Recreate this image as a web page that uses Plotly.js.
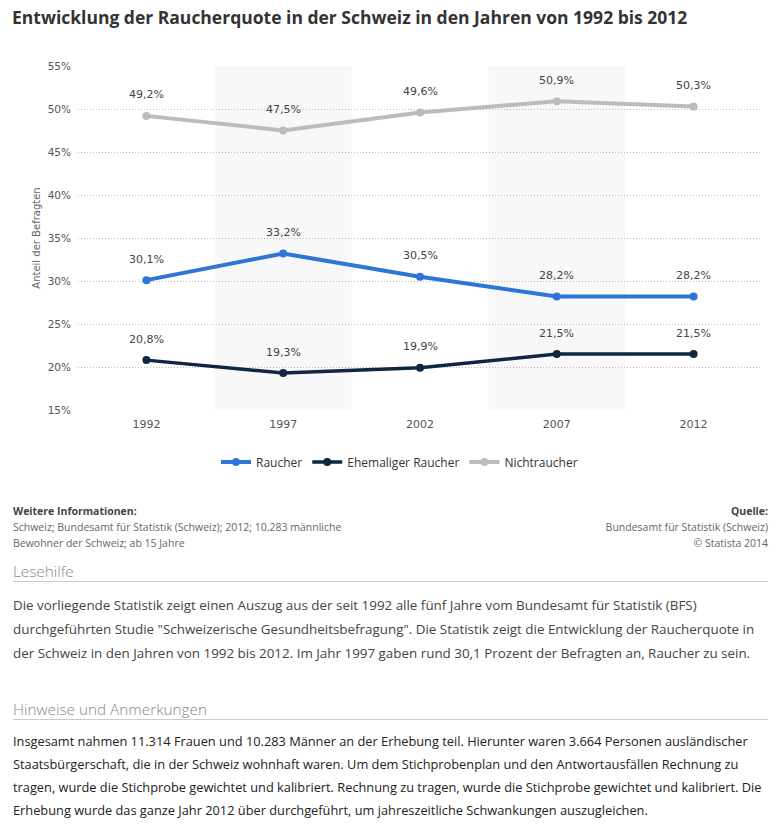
<!DOCTYPE html>
<html>
<head>
<meta charset="utf-8">
<script src="https://cdn.plot.ly/plotly-3.0.1.min.js"></script>
<style>
    body { margin: 0; background: #fff; width: 781px; height: 825px; position: relative; overflow: hidden; }
    .txt { font-family: "Open Sans", sans-serif; }
    #title { position: absolute; left: 12px; top: 5px; font-size: 17.5px; font-weight: 700; color: #333; white-space: nowrap; }
    #graphic { position: absolute; left: 0; top: 0; width: 781px; height: 490px; }
    .info { position: absolute; top: 503px; font-size: 10.5px; line-height: 16px; color: #666; }
    .info b { color: #444; }
    #info-left { left: 13px; }
    #info-right { right: 13px; text-align: right; }
    .head { position: absolute; left: 13px; width: 755px; font-size: 15.3px; line-height: 20px; font-weight: 300; color: #888; border-bottom: 1px solid #ccc; }
    .text { position: absolute; left: 13px; width: 755px; font-size: 12.8px; line-height: 24px; color: #444; }
</style>
</head>
<body>
<div id="graphic"></div>
<div id="title" class="txt">Entwicklung der Raucherquote in der Schweiz in den Jahren von 1992 bis 2012</div>

<div id="info-left" class="info txt"><b>Weitere Informationen:</b><br>Schweiz; Bundesamt für Statistik (Schweiz); 2012; 10.283 männliche<br>Bewohner der Schweiz; ab 15 Jahre</div>
<div id="info-right" class="info txt"><b>Quelle:</b><br>Bundesamt für Statistik (Schweiz)<br>© Statista 2014</div>

<div class="head txt" style="top: 561px;">Lesehilfe</div>
<div class="text txt" style="top: 593px; font-size: 13.4px;">Die vorliegende Statistik zeigt einen Auszug aus der seit 1992 alle fünf Jahre vom Bundesamt für Statistik (BFS) durchgeführten Studie "Schweizerische Gesundheitsbefragung". Die Statistik zeigt die Entwicklung der Raucherquote in der Schweiz in den Jahren von 1992 bis 2012. Im Jahr 1997 gaben rund 30,1 Prozent der Befragten an, Raucher zu sein.</div>

<div class="head txt" style="top: 699px;">Hinweise und Anmerkungen</div>
<div class="text txt" style="top: 730px; width: 760px; line-height: 23px; color: #222;">Insgesamt nahmen 11.314 Frauen und 10.283 Männer an der Erhebung teil. Hierunter waren 3.664 Personen ausländischer Staatsbürgerschaft, die in der Schweiz wohnhaft waren. Um dem Stichprobenplan und den Antwortausfällen Rechnung zu tragen, wurde die Stichprobe gewichtet und kalibriert. Rechnung zu tragen, wurde die Stichprobe gewichtet und kalibriert. Die Erhebung wurde das ganze Jahr 2012 über durchgeführt, um jahreszeitliche Schwankungen auszugleichen.</div>

<script>
let years = [1992, 1997, 2002, 2007, 2012];
let raucher = [30.1, 33.2, 30.5, 28.2, 28.2];
let ehemalige = [20.8, 19.3, 19.9, 21.5, 21.5];
let nichtraucher = [49.2, 47.5, 49.6, 50.9, 50.3];
let yTicks = [15, 20, 25, 30, 35, 40, 45, 50, 55];

let series = [
    { name: 'Raucher', y: raucher, color: '#2f75d8', width: 4 },
    { name: 'Ehemaliger Raucher', y: ehemalige, color: '#0f2741', width: 3.5 },
    { name: 'Nichtraucher', y: nichtraucher, color: '#bcbcbc', width: 4 }
];

function fmt(v) {
    return v.toFixed(1).replace('.', ',') + '%';
}

let data = series.map(function (s) {
    return {
        x: years,
        y: s.y,
        name: s.name,
        type: 'scatter',
        mode: 'lines+markers',
        line: { color: s.color, width: s.width },
        marker: { color: s.color, size: 8 },
        hoverinfo: 'skip'
    };
});

let annotations = [];
series.forEach(function (s) {
    s.y.forEach(function (v, i) {
        annotations.push({
            x: years[i], y: v, xref: 'x', yref: 'y',
            text: fmt(v), showarrow: false, yshift: 21,
            font: { family: 'DejaVu Sans, sans-serif', size: 11, color: '#444' }
        });
    });
});

// grey background bands behind every other year
let shapes = [1, 3].map(function (i) {
    return {
        type: 'rect', xref: 'x', yref: 'paper', layer: 'below',
        x0: years[i] - 2.5, x1: years[i] + 2.5, y0: 0, y1: 1,
        fillcolor: '#f8f8f8', line: { width: 0 }
    };
});

let layout = {
    width: 781,
    height: 490,
    font: { family: 'Open Sans, sans-serif', size: 11, color: '#555' },
    margin: { l: 78, r: 19, t: 66, b: 80 },
    paper_bgcolor: 'rgba(0,0,0,0)',
    plot_bgcolor: 'rgba(0,0,0,0)',
    showlegend: true,
    legend: {
        orientation: 'h', x: 0.47, xanchor: 'center', y: -0.151, yanchor: 'middle',
        font: { size: 12, color: '#333' }, itemwidth: 30
    },
    xaxis: {
        range: [years[0] - 2.5, years[years.length - 1] + 2.5],
        tickvals: years,
        ticktext: years.map(String),
        tickfont: { family: 'DejaVu Sans, sans-serif', size: 11, color: '#555' },
        showgrid: false, zeroline: false, showline: false,
        ticks: '', ticklabelstandoff: 6,
        fixedrange: true
    },
    yaxis: {
        range: [15, 55],
        tickvals: yTicks,
        ticktext: yTicks.map(function (t) { return t + '%'; }),
        tickfont: { family: 'DejaVu Sans, sans-serif', size: 10.5, color: '#555' },
        showgrid: true, gridcolor: '#bbbbbb', griddash: '1px,2px', gridwidth: 1,
        zeroline: false, showline: false, ticks: '', ticklabelstandoff: 6,
        title: { text: 'Anteil der Befragten', font: { family: 'DejaVu Sans, sans-serif', size: 10, color: '#666' }, standoff: 5 },
        fixedrange: true
    },
    shapes: shapes,
    annotations: annotations
};

Plotly.newPlot('graphic', data, layout, { displayModeBar: false, staticPlot: true });
</script>
</body>
</html>
